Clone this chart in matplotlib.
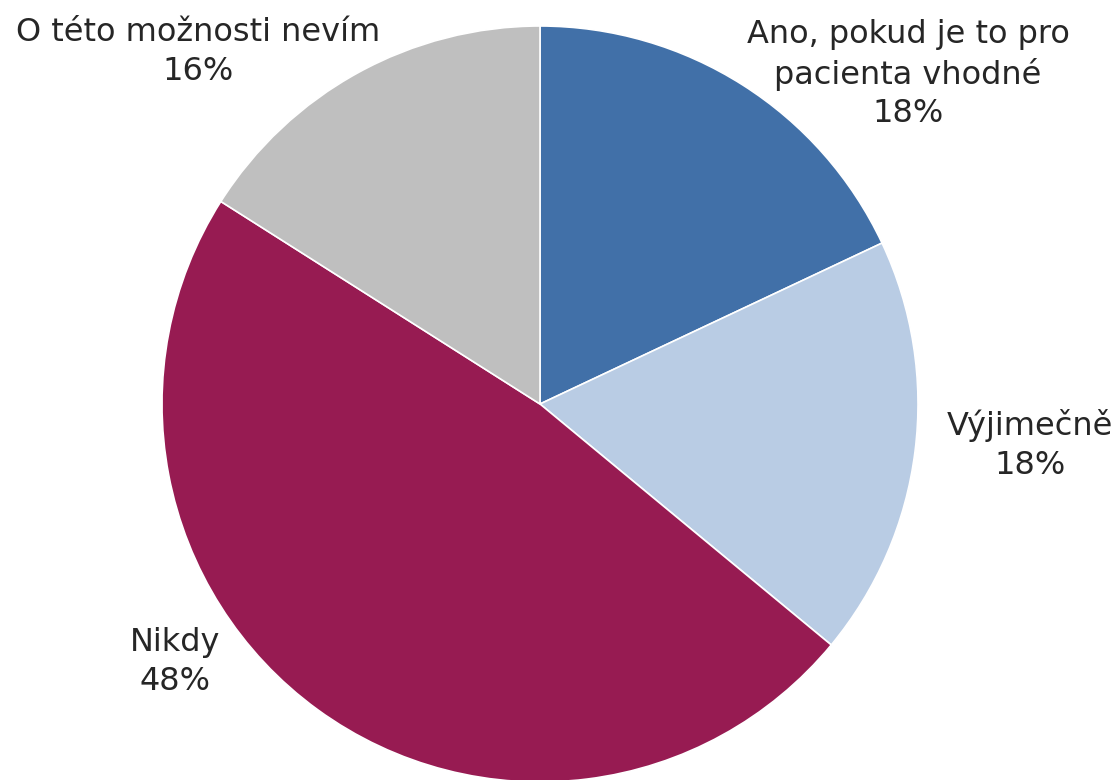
import matplotlib.pyplot as plt

plt.rcParams["font.family"] = ["DejaVu Sans"]

labels = ["Ano, pokud je to pro\npacienta vhodné", "Výjimečně", "Nikdy", "O této možnosti nevím"]
values = [18, 18, 48, 16]
colors = ["#4170A8", "#B9CCE4", "#971B52", "#BFBFBF"]

W, H = 1117, 780
fig = plt.figure(figsize=(W / 100, H / 100), dpi=100)
ax = fig.add_axes([0, 0, 1, 1])

cx, cy, r = 540, H - 404, 378
ax.pie(values, colors=colors, startangle=90, counterclock=False,
       center=(cx, cy), radius=r, frame=True,
       wedgeprops=dict(edgecolor="white", linewidth=1.2))
ax.set_xlim(0, W)
ax.set_ylim(0, H)
ax.set_aspect("equal")
ax.axis("off")

# label anchors (pixel positions, y measured from the top)
label_pos = [(908, 74), (1030, 445), (175, 662), (198, 52)]
for lab, val, (x, y) in zip(labels, values, label_pos):
    ax.text(x, H - y, f"{lab}\n{val}%", ha="center", va="center",
            fontsize=23, color="#262626", linespacing=1.32)

fig.savefig("out.png", dpi=100)
